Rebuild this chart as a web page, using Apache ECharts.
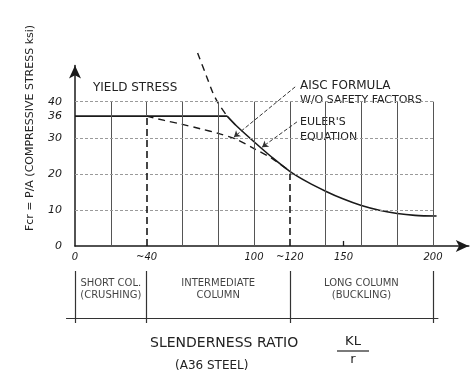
<!DOCTYPE html>
<html><head><meta charset="utf-8">
<script src="https://cdn.jsdelivr.net/npm/echarts@6/dist/echarts.min.js"></script>
<style>html,body{margin:0;padding:0;background:#fff}#c{width:472px;height:374px}</style>
</head><body><div id="c"></div>
<script>
// ---- data ----
const gridXs = [20, 40, 60, 80, 100, 120, 140, 160, 180, 200];
const gridYs = [10, 20, 30, 40];
const yieldStress = 36;
const yieldEnd = 85;
const dropLines = [[40, 36], [120, 20]];
const eulerDashed = [[68.5, 53.5], [73.5, 47], [77, 42.5], [80, 39.6], [85, 36]];
const eulerSolid = [[85, 36], [90, 33.4], [100, 28.9], [110, 24.6], [120, 20.7], [130, 17.7], [140, 15.2], [150, 13], [160, 11.2], [170, 9.9], [180, 9], [190, 8.5], [202, 8.3]];
const aiscCurve = [[40, 36], [50, 34.8], [60, 33.7], [70, 32.5], [80, 31.2], [90, 29.6], [100, 27], [110, 24.3], [120, 20.7]];
const yTickValues = [0, 10, 20, 30, 36, 40];
const xTickValues = [0, 40, 100, 120, 150, 200];
const xTickLabels = ['0', '~40', '100', '~120', '150', '200'];
const regionBounds = [0, 40, 120, 200];
const regionNames = ['SHORT COL.\n(CRUSHING)', 'INTERMEDIATE\nCOLUMN', 'LONG COLUMN\n(BUCKLING)'];
const arrowAISC = [[123, 44.1], [88.8, 30.2]];
const arrowEuler = [[124, 34.4], [104.5, 27.4]];

// ---- chart ----
const FONT = 'DejaVu Sans';
const INK = '#1a1a1a';
const chart = echarts.init(document.getElementById('c'), null, {renderer: 'canvas'});

function ml(pairs, style, extra) {
  return Object.assign({
    silent: true, symbol: 'none', label: {show: false},
    lineStyle: style, emphasis: {disabled: true},
    data: pairs.map(p => [{coord: p[0]}, {coord: p[1]}])
  }, extra || {});
}

const vertGrid = gridXs.map(x => {
  const d = dropLines.find(e => e[0] === x);
  return [[x, d ? d[1] : 0], [x, 40]];
});

const option = {
  animation: false,
  backgroundColor: '#fff',
  grid: [
    {left: 75, top: 65.6, width: 393.8, height: 180.4},
    {left: 57.1, top: 271, width: 411.7, height: 52}
  ],
  xAxis: [
    {type: 'value', gridIndex: 0, min: 0, max: 220, interval: 10,
     axisLine: {show: true, symbol: ['none', 'arrow'], symbolSize: [9, 13], lineStyle: {color: INK, width: 1.5}},
     axisTick: {show: false}, splitLine: {show: false},
     axisLabel: {margin: 6, fontSize: 10, fontStyle: 'italic', fontFamily: FONT, color: INK,
       formatter: v => { const i = xTickValues.indexOf(v); return i >= 0 ? xTickLabels[i] : ''; }}},
    {type: 'value', gridIndex: 1, min: -10, max: 220, show: false}
  ],
  yAxis: [
    {type: 'value', gridIndex: 0, min: 0, max: 50, interval: 2,
     axisLine: {show: true, symbol: ['none', 'arrow'], symbolSize: [9, 13], lineStyle: {color: INK, width: 1.5}},
     axisTick: {show: false}, splitLine: {show: false},
     axisLabel: {margin: 13, fontSize: 11, fontStyle: 'italic', fontFamily: FONT, color: INK,
       formatter: v => yTickValues.indexOf(v) >= 0 ? String(v) : ''}},
    {type: 'value', gridIndex: 1, min: -0.1, max: 1, show: false}
  ],
  series: [
    {type: 'line', xAxisIndex: 0, yAxisIndex: 0, data: [], markLine: ml(vertGrid, {color: '#555', width: 1, type: 'solid'})},
    {type: 'line', xAxisIndex: 0, yAxisIndex: 0, data: [], markLine: ml(gridYs.map(y => [[0, y], [201, y]]), {color: '#9a9a9a', width: 1, type: [3, 2]})},
    {type: 'line', xAxisIndex: 0, yAxisIndex: 0, data: [], markLine: ml(dropLines.map(d => [[d[0], 0], [d[0], d[1]]]), {color: INK, width: 1.6, type: [7, 4]})},
    {type: 'line', xAxisIndex: 0, yAxisIndex: 0, data: [], markLine: ml([[[150, 0], [150, 1.4]]], {color: INK, width: 1.3, type: 'solid'})},
    {type: 'line', xAxisIndex: 0, yAxisIndex: 0, symbol: 'none', data: [[0, yieldStress], [yieldEnd, yieldStress]],
     lineStyle: {color: INK, width: 1.6}},
    {type: 'line', xAxisIndex: 0, yAxisIndex: 0, symbol: 'none', smooth: 0.3, data: aiscCurve,
     lineStyle: {color: INK, width: 1.4, type: [7, 5]}},
    {type: 'line', xAxisIndex: 0, yAxisIndex: 0, symbol: 'none', smooth: 0.3, clip: false, data: eulerDashed,
     lineStyle: {color: INK, width: 1.4, type: [7, 5]}},
    {type: 'line', xAxisIndex: 0, yAxisIndex: 0, symbol: 'none', smooth: 0.3, data: eulerSolid,
     lineStyle: {color: INK, width: 1.6}},
    {type: 'line', xAxisIndex: 0, yAxisIndex: 0, data: [],
     markLine: Object.assign(ml([arrowAISC, arrowEuler], {color: '#333', width: 1, curveness: -0.3}), {symbol: ['none', 'arrow'], symbolSize: 6})},
    // region bracket below axis
    {type: 'line', xAxisIndex: 1, yAxisIndex: 1, data: [],
     markLine: ml(regionBounds.map(x => [[x, -0.1], [x, 1]]).concat([[[-5, 0], [203, 0]]]), {color: '#333', width: 1.2, type: 'solid'})},
    {type: 'scatter', xAxisIndex: 1, yAxisIndex: 1, symbolSize: 0, silent: true,
     data: regionNames.map((n, i) => ({value: [(regionBounds[i] + regionBounds[i + 1]) / 2, 0.62], name: n})),
     label: {show: true, position: 'inside', formatter: p => p.name, fontFamily: FONT, fontSize: 10, lineHeight: 12, color: '#111', align: 'center', verticalAlign: 'middle'}}
  ],
  graphic: [
    {type: 'text', x: 30, y: 128, rotation: Math.PI / 2,
     style: {text: 'Fcr = P/A (COMPRESSIVE STRESS ksi)', font: '11px ' + FONT, fill: '#222', textAlign: 'center', textVerticalAlign: 'middle'}},
    {type: 'text', x: 93, y: 88, style: {text: 'YIELD STRESS', font: '12px ' + FONT, fill: '#222', textVerticalAlign: 'middle'}},
    {type: 'text', x: 300, y: 86, style: {text: 'AISC FORMULA', font: '12px ' + FONT, fill: '#222', textVerticalAlign: 'middle'}},
    {type: 'text', x: 300, y: 100, style: {text: 'W/O SAFETY FACTORS', font: '11px ' + FONT, fill: '#222', textVerticalAlign: 'middle'}},
    {type: 'text', x: 300, y: 122, style: {text: "EULER'S", font: '11px ' + FONT, fill: '#222', textVerticalAlign: 'middle'}},
    {type: 'text', x: 300, y: 137, style: {text: 'EQUATION', font: '11px ' + FONT, fill: '#222', textVerticalAlign: 'middle'}},
    {type: 'text', x: 150, y: 343, style: {text: 'SLENDERNESS RATIO', font: '14px ' + FONT, fill: '#222', textVerticalAlign: 'middle'}},
    {type: 'text', x: 353, y: 342, style: {text: 'KL', font: '13px ' + FONT, fill: '#222', textAlign: 'center', textVerticalAlign: 'middle'}},
    {type: 'line', shape: {x1: 337, y1: 351, x2: 369, y2: 351}, style: {stroke: '#222', lineWidth: 1.2}},
    {type: 'text', x: 353, y: 360, style: {text: 'r', font: '13px ' + FONT, fill: '#222', textAlign: 'center', textVerticalAlign: 'middle'}},
    {type: 'text', x: 175, y: 366, style: {text: '(A36 STEEL)', font: '12px ' + FONT, fill: '#222', textVerticalAlign: 'middle'}}
  ]
};
chart.setOption(option);
</script>
</body></html>
